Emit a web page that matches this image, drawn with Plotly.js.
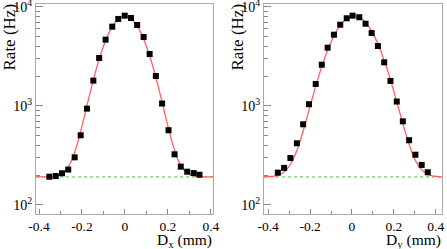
<!DOCTYPE html>
<html>
<head>
<meta charset="utf-8">
<script src="https://cdn.plot.ly/plotly-3.0.1.min.js"></script>
<style>html,body{margin:0;padding:0;background:#fff;}#chart{width:447px;height:249px;}</style>
</head>
<body>
<div id="chart"></div>
<script>
// Left panel: scan in D_x
const leftX = [-0.352,-0.322,-0.293,-0.264,-0.234,-0.206,-0.177,-0.147,-0.120,-0.090,-0.059,-0.031,-0.001,0.028,0.057,0.087,0.115,0.144,0.173,0.203,0.231,0.260,0.290,0.320,0.347];
const leftRate = [193,196,209,228,303,506,940,1803,3055,4677,6324,7568,8166,7745,6577,4977,3350,2009,1059,569,325,244,217,210,202];
const leftFitX = [-0.414,-0.35,-0.325,-0.3,-0.275,-0.25,-0.225,-0.2,-0.175,-0.15,-0.125,-0.1,-0.075,-0.05,-0.025,0,0.025,0.05,0.075,0.1,0.125,0.15,0.175,0.2,0.225,0.25,0.275,0.3,0.325,0.35,0.41];
const leftFitRate = [192,193,196,203,225,277,393,626,1048,1735,2734,4016,5446,6781,7744,8092,7744,6781,5446,4016,2734,1735,1048,626,393,277,225,203,196,193,192];
const leftBaseX = [-0.414,0.41];
const leftBaseRate = [192,192];

// Right panel: scan in D_y
const rightX = [-0.354,-0.324,-0.294,-0.263,-0.233,-0.205,-0.173,-0.144,-0.116,-0.086,-0.056,-0.025,0.003,0.035,0.065,0.094,0.124,0.154,0.184,0.214,0.243,0.273,0.303,0.333,0.362];
const rightRate = [212,237,298,420,653,1042,1667,2612,3880,5248,6622,7691,8166,7870,6776,5458,4036,2761,1791,1109,700,451,322,254,214];
const rightFitX = [-0.42,-0.395,-0.37,-0.345,-0.32,-0.295,-0.27,-0.245,-0.22,-0.195,-0.17,-0.145,-0.12,-0.095,-0.07,-0.045,-0.02,0.005,0.03,0.055,0.08,0.105,0.13,0.155,0.18,0.205,0.23,0.255,0.28,0.305,0.33,0.355,0.38,0.405,0.43];
const rightFitRate = [192,194,196,203,219,255,326,461,698,1083,1662,2468,3489,4669,5889,6983,7778,8132,7978,7346,6352,5161,3947,2851,1957,1289,831,541,370,277,230,208,198,194,192];
const rightBaseX = [-0.42,0.43];
const rightBaseRate = [192,192];

const yTickVals = [100,1000,10000];
const yTickText = ['10<sup>2</sup>','10<sup>3</sup>','10<sup>4</sup>'];
const yMinorVals = [200,300,400,500,600,700,800,900,2000,3000,4000,5000,6000,7000,8000,9000];
const xTickVals = [-0.4,-0.2,0,0.2,0.4];
const xTickText = ['-0.4','-0.2','0','0.2','0.4'];
const xMinorVals = [-0.3,-0.1,0.1,0.3];
const xTitles = ['D<sub>x</sub> (mm)','D<sub>y</sub> (mm)'];
const yTitle = 'Rate (Hz)';

const FONT = 'Liberation Serif, Times New Roman, serif';
const FIT_COLOR = '#ff6262';
const BASE_COLOR = '#55bb55';

function traces(xa, ya, bx, by, fx, fy, dx, dy) {
  return [
    {x: bx, y: by, xaxis: xa, yaxis: ya, mode: 'lines', line: {color: BASE_COLOR, width: 1, dash: 'dot'}, hoverinfo: 'skip'},
    {x: fx, y: fy, xaxis: xa, yaxis: ya, mode: 'lines', line: {color: FIT_COLOR, width: 1.3, shape: 'spline', smoothing: 1}, hoverinfo: 'skip'},
    {x: dx, y: dy, xaxis: xa, yaxis: ya, mode: 'markers', marker: {symbol: 'square', size: 6, color: '#000'}}
  ];
}

const data = [].concat(
  traces('x', 'y', leftBaseX, leftBaseRate, leftFitX, leftFitRate, leftX, leftRate),
  traces('x2', 'y2', rightBaseX, rightBaseRate, rightFitX, rightFitRate, rightX, rightRate)
);

function xAxis(domain, range, anchor) {
  return {
    domain: domain, range: range, anchor: anchor,
    showline: true, mirror: true, linecolor: '#aaaaaa', linewidth: 1,
    showgrid: false, zeroline: false,
    ticks: 'inside', ticklen: 5, tickcolor: '#888888',
    tickvals: xTickVals, ticktext: xTickText,
    ticklabeloverflow: 'allow', ticklabelstandoff: 0,
    minor: {tickvals: xMinorVals, ticks: 'inside', ticklen: 3, tickcolor: '#888888', showgrid: false},
    tickfont: {family: FONT, size: 13.5, color: '#000'}
  };
}
function yAxis(domain, anchor) {
  return {
    domain: domain, type: 'log', range: [1.909, 4.030], anchor: anchor,
    showline: true, mirror: true, linecolor: '#aaaaaa', linewidth: 1,
    showgrid: false, zeroline: false,
    ticks: 'inside', ticklen: 7, tickcolor: '#888888',
    tickvals: yTickVals, ticktext: yTickText,
    ticklabeloverflow: 'allow',
    minor: {tickvals: yMinorVals, ticks: 'inside', ticklen: 4, tickcolor: '#888888', showgrid: false},
    tickfont: {family: FONT, size: 14, color: '#000'}
  };
}

const yDom = [1 - 214/249, 1 - 4/249];
const layout = {
  width: 447, height: 249,
  margin: {l: 0, r: 0, t: 0, b: 0},
  paper_bgcolor: '#fff', plot_bgcolor: '#fff',
  showlegend: false,
  font: {family: FONT, color: '#000'},
  xaxis: xAxis([36/447, 213/447], [-0.414, 0.41], 'y'),
  yaxis: yAxis(yDom, 'x'),
  xaxis2: xAxis([264/447, 442/447], [-0.42, 0.43], 'y2'),
  yaxis2: yAxis(yDom, 'x2'),
  annotations: [
    {text: yTitle, xref: 'paper', yref: 'paper', x: 9/447, y: 1 - 2/249, xanchor: 'center', yanchor: 'top', textangle: -90, showarrow: false, font: {family: FONT, size: 17, color: '#000'}},
    {text: yTitle, xref: 'paper', yref: 'paper', x: 237/447, y: 1 - 2/249, xanchor: 'center', yanchor: 'top', textangle: -90, showarrow: false, font: {family: FONT, size: 17, color: '#000'}},
    {text: xTitles[0], xref: 'paper', yref: 'paper', x: 214/447, y: 1 - 240/249, xanchor: 'right', yanchor: 'middle', showarrow: false, font: {family: FONT, size: 15.5, color: '#000'}},
    {text: xTitles[1], xref: 'paper', yref: 'paper', x: 443/447, y: 1 - 240/249, xanchor: 'right', yanchor: 'middle', showarrow: false, font: {family: FONT, size: 15.5, color: '#000'}}
  ]
};

Plotly.newPlot('chart', data, layout, {staticPlot: true, displayModeBar: false});
</script>
</body>
</html>
